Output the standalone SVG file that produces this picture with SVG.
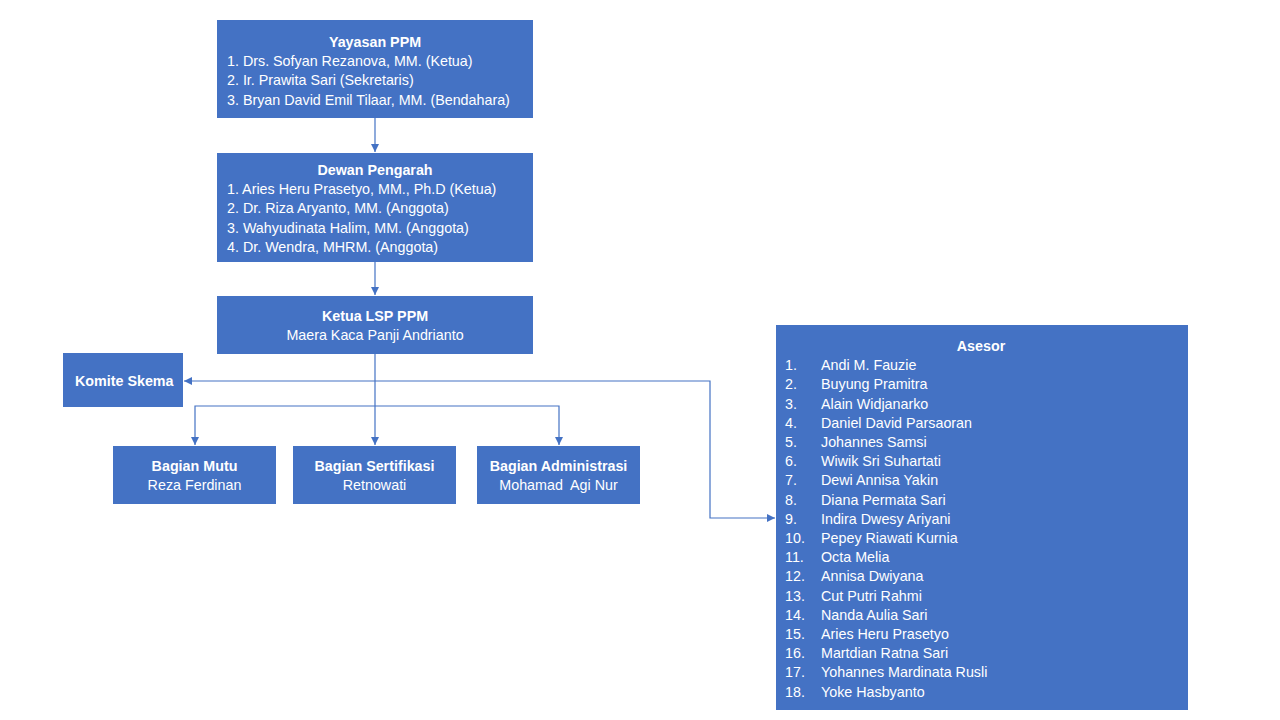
<svg xmlns="http://www.w3.org/2000/svg" width="1280" height="720" viewBox="0 0 1280 720">
<style>
.box{fill:#4472C4;}
.t{font-family:"Liberation Sans","Open Sans",Arial,sans-serif;font-size:14.3px;fill:#ffffff;white-space:pre;}
.b{font-weight:bold;}
.c{text-anchor:middle;}
.ln{fill:none;stroke:#4472C4;stroke-width:1.2;}
</style>
<defs>
<marker id="ah" viewBox="0 0 10 10" refX="10" refY="5" markerWidth="8" markerHeight="8" markerUnits="userSpaceOnUse" orient="auto-start-reverse">
<path d="M0,0 L10,5 L0,10 z" fill="#4472C4"/>
</marker>
</defs>
<rect width="1280" height="720" fill="#ffffff"/>
<g id="connectors">
<path class="ln" d="M375,118 V152" marker-end="url(#ah)"/>
<path class="ln" d="M375,262 V295" marker-end="url(#ah)"/>
<path class="ln" d="M375,354 V445" marker-end="url(#ah)"/>
<path class="ln" d="M195,445 V406 H559 V445" marker-start="url(#ah)" marker-end="url(#ah)"/>
<path class="ln" d="M184,381 H710 V518 H775" marker-start="url(#ah)" marker-end="url(#ah)"/>
</g>
<g id="yayasan">
<rect class="box" x="217" y="20" width="316" height="98"/>
<text class="t b c" x="375" y="47">Yayasan PPM</text>
<text class="t" x="227" y="66">1. Drs. Sofyan Rezanova, MM. (Ketua)</text>
<text class="t" x="227" y="85">2. Ir. Prawita Sari (Sekretaris)</text>
<text class="t" x="227" y="105">3. Bryan David Emil Tilaar, MM. (Bendahara)</text>
</g>
<g id="dewan">
<rect class="box" x="217" y="153" width="316" height="109"/>
<text class="t b c" x="375" y="175">Dewan Pengarah</text>
<text class="t" x="227" y="194">1. Aries Heru Prasetyo, MM., Ph.D (Ketua)</text>
<text class="t" x="227" y="213">2. Dr. Riza Aryanto, MM. (Anggota)</text>
<text class="t" x="227" y="233">3. Wahyudinata Halim, MM. (Anggota)</text>
<text class="t" x="227" y="252">4. Dr. Wendra, MHRM. (Anggota)</text>
</g>
<g id="ketua">
<rect class="box" x="217" y="296" width="316" height="58"/>
<text class="t b c" x="375" y="321">Ketua LSP PPM</text>
<text class="t c" x="375" y="340">Maera Kaca Panji Andrianto</text>
</g>
<g id="komite">
<rect class="box" x="63" y="353" width="120" height="54"/>
<text class="t b" x="75" y="386">Komite Skema</text>
</g>
<g id="mutu">
<rect class="box" x="113" y="446" width="163" height="58"/>
<text class="t b c" x="194.5" y="471">Bagian Mutu</text>
<text class="t c" x="194.5" y="490">Reza Ferdinan</text>
</g>
<g id="sertifikasi">
<rect class="box" x="293" y="446" width="163" height="58"/>
<text class="t b c" x="374.5" y="471">Bagian Sertifikasi</text>
<text class="t c" x="374.5" y="490">Retnowati</text>
</g>
<g id="administrasi">
<rect class="box" x="477" y="446" width="163" height="58"/>
<text class="t b c" x="558.5" y="471">Bagian Administrasi</text>
<text class="t c" x="558.5" y="490">Mohamad  Agi Nur</text>
</g>
<g id="asesor">
<rect class="box" x="776" y="325" width="412" height="385"/>
<text class="t b c" x="981" y="351">Asesor</text>
<g class="t">
<text x="785" y="370">1.</text><text x="821" y="370">Andi M. Fauzie</text>
<text x="785" y="389">2.</text><text x="821" y="389">Buyung Pramitra</text>
<text x="785" y="409">3.</text><text x="821" y="409">Alain Widjanarko</text>
<text x="785" y="428">4.</text><text x="821" y="428">Daniel David Parsaoran</text>
<text x="785" y="447">5.</text><text x="821" y="447">Johannes Samsi</text>
<text x="785" y="466">6.</text><text x="821" y="466">Wiwik Sri Suhartati</text>
<text x="785" y="485">7.</text><text x="821" y="485">Dewi Annisa Yakin</text>
<text x="785" y="505">8.</text><text x="821" y="505">Diana Permata Sari</text>
<text x="785" y="524">9.</text><text x="821" y="524">Indira Dwesy Ariyani</text>
<text x="785" y="543">10.</text><text x="821" y="543">Pepey Riawati Kurnia</text>
<text x="785" y="562">11.</text><text x="821" y="562">Octa Melia</text>
<text x="785" y="581">12.</text><text x="821" y="581">Annisa Dwiyana</text>
<text x="785" y="601">13.</text><text x="821" y="601">Cut Putri  Rahmi</text>
<text x="785" y="620">14.</text><text x="821" y="620">Nanda Aulia Sari</text>
<text x="785" y="639">15.</text><text x="821" y="639">Aries Heru  Prasetyo</text>
<text x="785" y="658">16.</text><text x="821" y="658">Martdian  Ratna Sari</text>
<text x="785" y="677">17.</text><text x="821" y="677">Yohannes Mardinata Rusli</text>
<text x="785" y="697">18.</text><text x="821" y="697">Yoke  Hasbyanto</text>
</g>
</g>
</svg>
